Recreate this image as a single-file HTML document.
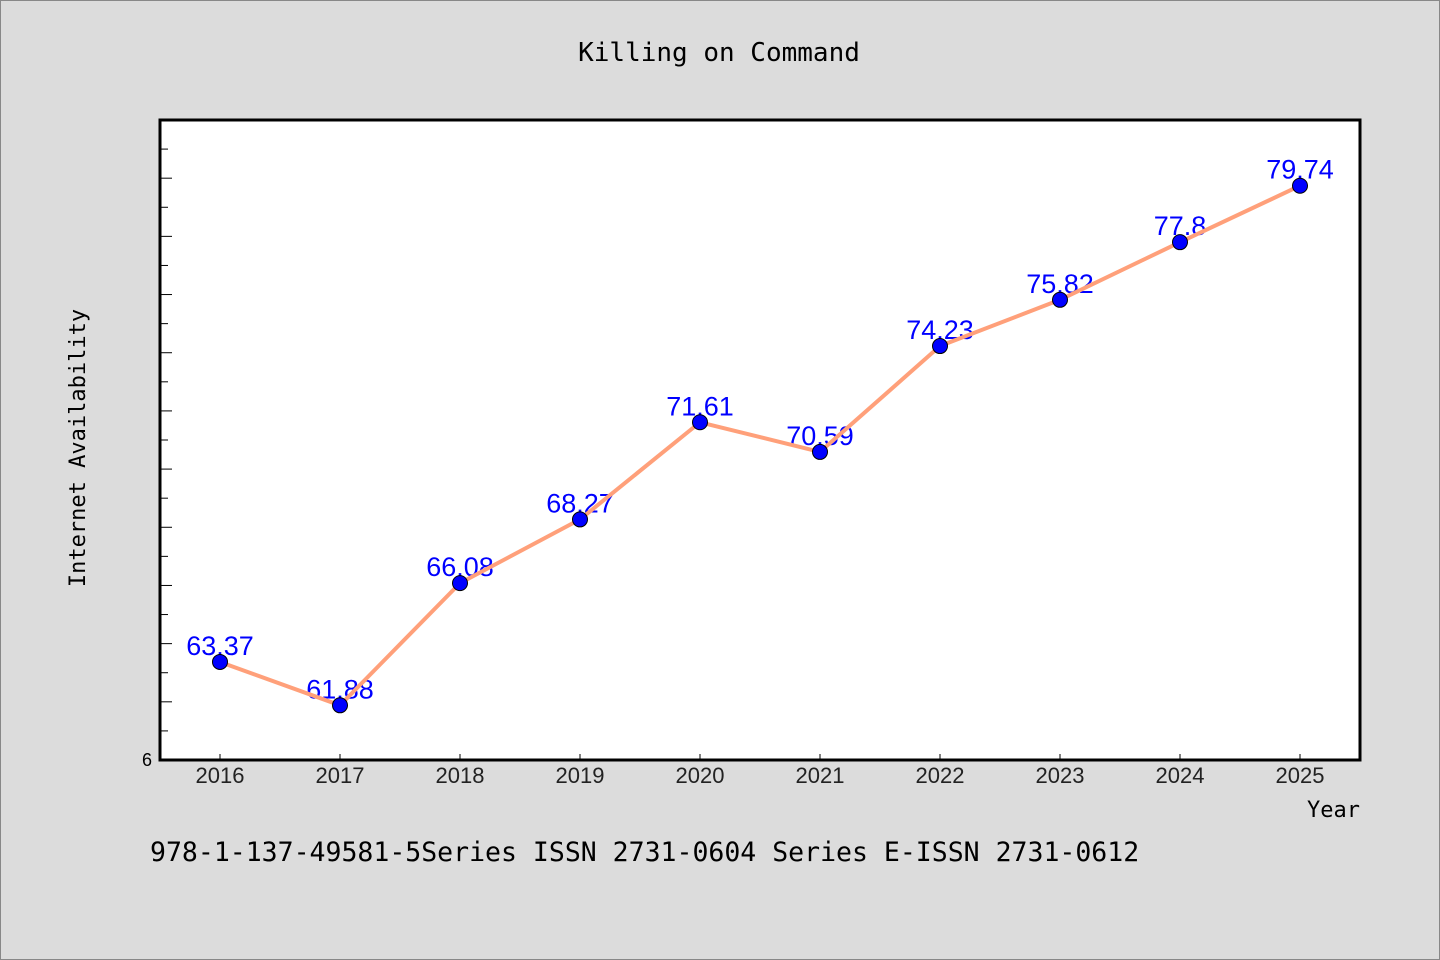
<!DOCTYPE html>
<html><head><meta charset="utf-8"><style>
body{margin:0;background:#dcdcdc;}
svg{display:block;}
</style></head><body>
<svg width="1440" height="960" xmlns="http://www.w3.org/2000/svg">
<rect x="0.5" y="0.5" width="1439" height="959" fill="#dcdcdc" stroke="#888"/>
<text x="719" y="61" text-anchor="middle" font-family="'DejaVu Sans Mono','Liberation Mono',monospace" font-size="26" fill="#000">Killing on Command</text>
<rect x="160" y="120" width="1200" height="640" fill="#fff"/>
<g id="yticks"></g>
<g id="xticks"></g>
<g id="labels"></g>
<g id="series"></g>
<rect x="160" y="120" width="1200" height="640" fill="none" stroke="#000" stroke-width="3"/>
<text x="147" y="766" text-anchor="middle" font-family="'Liberation Sans',sans-serif" font-size="18" fill="#000">6</text>
<text transform="translate(85,448) rotate(-90)" text-anchor="middle" font-family="'DejaVu Sans Mono','Liberation Mono',monospace" font-size="22" fill="#000">Internet Availability</text>
<text x="1360" y="817" text-anchor="end" font-family="'DejaVu Sans Mono','Liberation Mono',monospace" font-size="22" fill="#000">Year</text>
<text x="150" y="861" font-family="'DejaVu Sans Mono','Liberation Mono',monospace" font-size="26.5" fill="#000">978-1-137-49581-5Series ISSN 2731-0604 Series E-ISSN 2731-0612</text>
</svg>
<script>
const years = [2016,2017,2018,2019,2020,2021,2022,2023,2024,2025];
const values = [63.37,61.88,66.08,68.27,71.61,70.59,74.23,75.82,77.8,79.74];
const valueLabels = ["63.37","61.88","66.08","68.27","71.61","70.59","74.23","75.82","77.8","79.74"];
const yMin = 60, yMax = 82;
const NS = "http://www.w3.org/2000/svg";
function xs(i){return 220 + i*120;}
function ys(v){return 760 - (v - yMin)/(yMax - yMin)*640;}
function mk(tag, attrs, parent){const e=document.createElementNS(NS,tag);for(const k in attrs)e.setAttribute(k,attrs[k]);parent.appendChild(e);return e;}
const yt=document.getElementById('yticks');
for(let v=yMin+1; v<yMax; v++){
  const y=ys(v); const len=(v%2===0)?12:8;
  const t=mk('line',{x1:160,x2:160+len,y1:y,y2:y,stroke:'#000','stroke-width':1},yt);
  
  
}
const xt=document.getElementById('xticks');
years.forEach((yr,i)=>{
  const t=mk('line',{x1:xs(i),x2:xs(i),y1:760,y2:754,stroke:'#000','stroke-width':1},xt);
  
  
  const l=mk('text',{x:xs(i),y:783,'text-anchor':'middle','font-family':"'Liberation Sans',sans-serif",'font-size':22,fill:'#222'},xt);
  l.textContent=yr;
  
  
});
const lb=document.getElementById('labels');
values.forEach((v,i)=>{
  const l=mk('text',{x:xs(i),y:ys(v)-7,'text-anchor':'middle','font-family':"'Liberation Sans',sans-serif",'font-size':27,fill:'#0000ff'},lb);
  l.textContent=valueLabels[i];
  
  
});
const sg=document.getElementById('series');
const pl=mk('polyline',{points:values.map((v,i)=>xs(i)+','+ys(v)).join(' '),fill:'none',stroke:'#ffa07a','stroke-width':4,'stroke-linejoin':'round'},sg);


values.forEach((v,i)=>{
  const c=mk('circle',{cx:xs(i),cy:ys(v),r:7.5,fill:'#0000ff',stroke:'#000','stroke-width':1},sg);
  
  
});
</script>
</body></html>
